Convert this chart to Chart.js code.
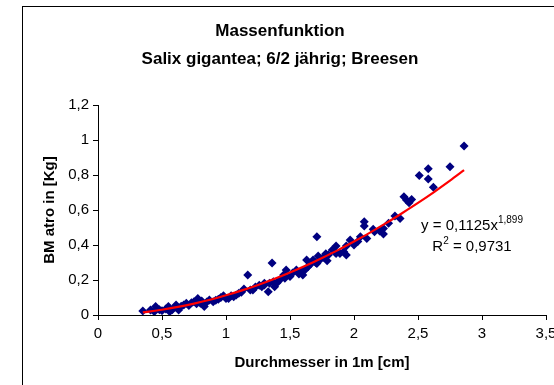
<!DOCTYPE html>
<html>
<head>
<meta charset="utf-8">
<script src="https://cdn.jsdelivr.net/npm/chart.js@4/dist/chart.umd.min.js"></script>
<style>
  html, body { margin: 0; padding: 0; background: #ffffff; }
  #wrap { position: relative; width: 554px; height: 385px; }
</style>
</head>
<body>
<div id="wrap"><canvas id="massChart" width="554" height="385"></canvas></div>
<script>
// Messwerte (Durchmesser in 1 m Höhe [cm] / Biomasse atro [kg])
const diameter = [
  0.35, 0.41, 0.44, 0.45, 0.48, 0.50, 0.53, 0.55, 0.56, 0.58,
  0.60, 0.61, 0.63, 0.65, 0.67, 0.69, 0.71, 0.73, 0.75, 0.77,
  0.78, 0.80, 0.81, 0.83, 0.85, 0.87, 0.90, 0.92, 0.94, 0.96,
  0.98, 1.00, 1.02, 1.04, 1.06, 1.08, 1.10, 1.12, 1.14, 1.17,
  1.19, 1.21, 1.23, 1.26, 1.28, 1.30, 1.30, 1.33, 1.34, 1.36,
  1.37, 1.38, 1.40, 1.42, 1.45, 1.46, 1.47, 1.50, 1.52, 1.55,
  1.57, 1.59, 1.60, 1.62, 1.63, 1.64, 1.66, 1.68, 1.70, 1.71,
  1.71, 1.72, 1.74, 1.76, 1.78, 1.79, 1.80, 1.83, 1.85, 1.86,
  1.86, 1.89, 1.92, 1.94, 1.94, 1.97, 2.00, 2.03, 2.05, 2.08,
  2.08, 2.10, 2.15, 2.16, 2.20, 2.23, 2.23, 2.27, 2.32, 2.36,
  2.39, 2.41, 2.43, 2.45, 2.51, 2.58, 2.58, 2.62, 2.75, 2.86
];
const biomass = [
  0.023, 0.029, 0.019, 0.048, 0.030, 0.025, 0.035, 0.048, 0.019, 0.030,
  0.045, 0.057, 0.029, 0.050, 0.057, 0.067, 0.055, 0.070, 0.076, 0.065,
  0.095, 0.067, 0.080, 0.048, 0.075, 0.086, 0.076, 0.085, 0.090, 0.100,
  0.110, 0.095, 0.095, 0.110, 0.105, 0.114, 0.125, 0.130, 0.149, 0.229,
  0.143, 0.143, 0.160, 0.170, 0.162, 0.181, 0.171, 0.133, 0.181, 0.297,
  0.190, 0.162, 0.185, 0.200, 0.229, 0.210, 0.257, 0.220, 0.240, 0.257,
  0.235, 0.248, 0.229, 0.260, 0.314, 0.276, 0.290, 0.314, 0.300, 0.448,
  0.295, 0.337, 0.320, 0.330, 0.350, 0.310, 0.343, 0.371, 0.360, 0.394,
  0.352, 0.352, 0.362, 0.394, 0.343, 0.429, 0.400, 0.420, 0.448, 0.533,
  0.509, 0.438, 0.490, 0.476, 0.480, 0.495, 0.463, 0.524, 0.566, 0.552,
  0.676, 0.657, 0.642, 0.661, 0.798, 0.836, 0.777, 0.730, 0.847, 0.966
];

// Potenz-Trendlinie (y = 0,1125x^1,899)
const trendX = [0.35, 0.50, 0.625, 0.75, 0.875, 1.00, 1.125, 1.25, 1.375, 1.50,
  1.625, 1.75, 1.875, 2.00, 2.125, 2.25, 2.375, 2.50, 2.625, 2.75, 2.86];
const trendY = [0.015, 0.030, 0.046, 0.065, 0.087, 0.113, 0.141, 0.172, 0.206, 0.243,
  0.283, 0.326, 0.371, 0.420, 0.471, 0.525, 0.582, 0.641, 0.703, 0.768, 0.828];

const xTicks = [0, 0.5, 1, 1.5, 2, 2.5, 3, 3.5];
const yTicks = [0, 0.2, 0.4, 0.6, 0.8, 1, 1.2];

const FONT = '"Liberation Sans", Arial, sans-serif';

const commaLabel = v => String(Math.round(v * 10) / 10).replace('.', ',');

// Rahmen + Regressionsgleichung
const decorPlugin = {
  id: 'decor',
  beforeDraw(chart) {
    const ctx = chart.ctx;
    ctx.save();
    ctx.strokeStyle = '#000000';
    ctx.lineWidth = 1;
    ctx.strokeRect(22.5, 6.5, 700, 500);
    ctx.restore();
  },
  afterDraw(chart) {
    const ctx = chart.ctx;
    const cx = 472;
    ctx.save();
    ctx.fillStyle = '#000000';
    ctx.textBaseline = 'alphabetic';
    ctx.textAlign = 'left';

    // Zeile 1: y = 0,1125x^1,899
    ctx.font = '15px ' + FONT;
    const main1 = 'y = 0,1125x';
    const w1 = ctx.measureText(main1).width;
    ctx.font = '10px ' + FONT;
    const sup1 = '1,899';
    const ws1 = ctx.measureText(sup1).width;
    let x0 = cx - (w1 + ws1) / 2;
    ctx.font = '15px ' + FONT;
    ctx.fillText(main1, x0, 230);
    ctx.font = '10px ' + FONT;
    ctx.fillText(sup1, x0 + w1, 223);

    // Zeile 2: R² = 0,9731
    ctx.font = '15px ' + FONT;
    const wr = ctx.measureText('R').width;
    const rest = ' = 0,9731';
    const wRest = ctx.measureText(rest).width;
    ctx.font = '10px ' + FONT;
    const w2 = ctx.measureText('2').width;
    x0 = cx - (wr + w2 + wRest) / 2;
    ctx.font = '15px ' + FONT;
    ctx.fillText('R', x0, 251);
    ctx.font = '10px ' + FONT;
    ctx.fillText('2', x0 + wr, 244);
    ctx.font = '15px ' + FONT;
    ctx.fillText(rest, x0 + wr + w2, 251);
    ctx.restore();
  }
};

const ctx = document.getElementById('massChart').getContext('2d');

new Chart(ctx, {
  type: 'scatter',
  data: {
    datasets: [
      {
        label: 'Trend',
        type: 'line',
        data: trendX.map((x, i) => ({ x, y: trendY[i] })),
        borderColor: '#ff0000',
        borderWidth: 2.2,
        pointRadius: 0,
        tension: 0.3,
        fill: false,
        order: 0
      },
      {
        label: 'BM atro',
        data: diameter.map((x, i) => ({ x, y: biomass[i] })),
        backgroundColor: '#000080',
        borderColor: '#000080',
        borderWidth: 0,
        pointStyle: 'rectRot',
        pointRadius: 4.5,
        order: 1
      }
    ]
  },
  options: {
    responsive: false,
    animation: false,
    devicePixelRatio: 1,
    layout: {
      padding: { top: 0, left: 14, right: 8, bottom: 0 }
    },
    scales: {
      x: {
        type: 'linear',
        min: 0,
        max: 3.5,
        afterBuildTicks: scale => {
          scale.ticks = xTicks.map(v => ({ value: v }));
        },
        afterFit: scale => {
          scale.height = 70;
          scale.paddingLeft = 0;
          scale.paddingRight = 0;
        },
        ticks: {
          color: '#000000',
          font: { family: FONT, size: 15 },
          padding: 5,
          maxRotation: 0,
          autoSkip: false,
          callback: v => commaLabel(v)
        },
        grid: {
          drawOnChartArea: false,
          drawTicks: true,
          tickLength: 5,
          color: '#000000'
        },
        border: { color: '#000000', width: 1 },
        title: {
          display: true,
          text: 'Durchmesser in 1m [cm]',
          color: '#000000',
          font: { family: FONT, size: 15, weight: 'bold' },
          padding: { top: 0, bottom: 13 }
        }
      },
      y: {
        type: 'linear',
        min: 0,
        max: 1.2,
        afterBuildTicks: scale => {
          scale.ticks = yTicks.map(v => ({ value: v }));
        },
        afterFit: scale => {
          scale.width = 84;
          scale.paddingTop = 0;
          scale.paddingBottom = 0;
        },
        ticks: {
          color: '#000000',
          font: { family: FONT, size: 15 },
          padding: 4,
          autoSkip: false,
          callback: v => commaLabel(v)
        },
        grid: {
          drawOnChartArea: false,
          drawTicks: true,
          tickLength: 5,
          color: '#000000'
        },
        border: { color: '#000000', width: 1 },
        title: {
          display: true,
          text: 'BM atro in [Kg]',
          color: '#000000',
          font: { family: FONT, size: 15, weight: 'bold' },
          padding: { top: 27, bottom: 0 }
        }
      }
    },
    plugins: {
      legend: { display: false },
      tooltip: { enabled: false },
      title: {
        display: true,
        text: ['Massenfunktion', 'Salix gigantea; 6/2 jährig; Breesen'],
        color: '#000000',
        font: { family: FONT, size: 17, weight: 'bold', lineHeight: 1.65 },
        padding: { top: 17, bottom: 32 }
      }
    }
  },
  plugins: [decorPlugin]
});
</script>
</body>
</html>
